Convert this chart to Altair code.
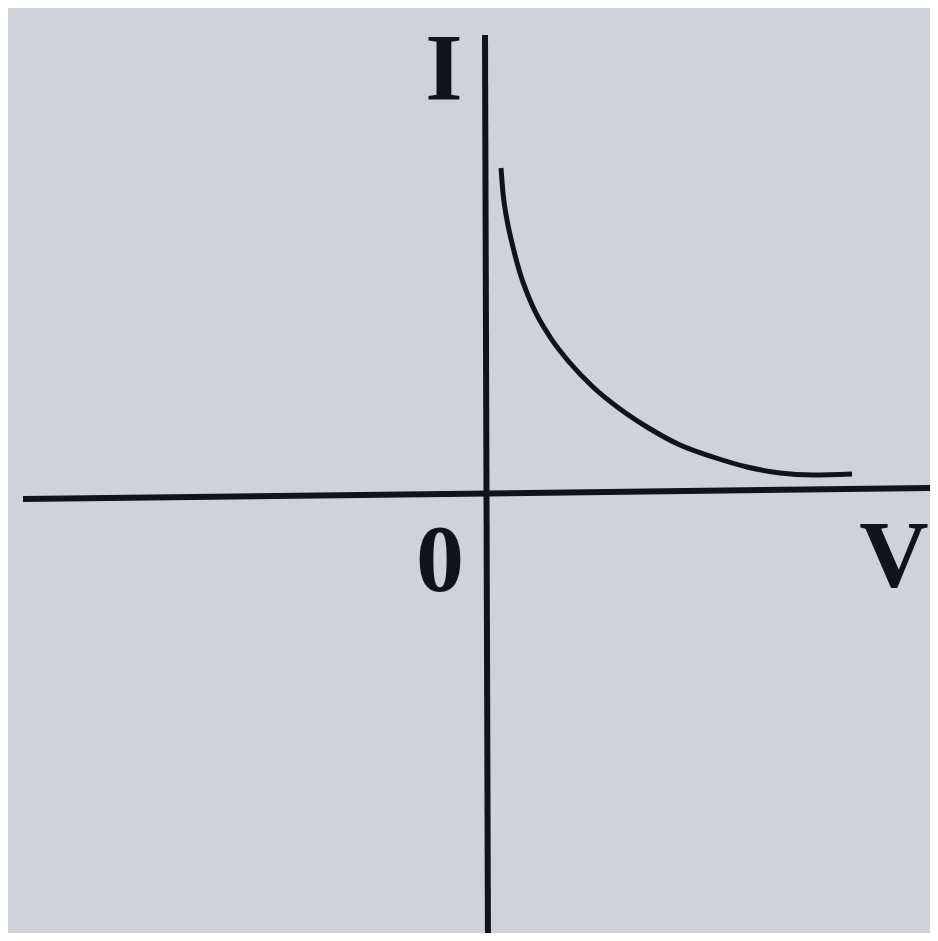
import altair as alt
import pandas as pd

# Curve I(V) (arbitrary units, origin at the axes crossing)
curve_v = [0.14, 0.16, 0.20, 0.25, 0.33, 0.46, 0.63, 0.83, 1.06, 1.33,
           1.60, 1.93, 2.26, 2.60, 2.93, 3.26, 3.65]
curve_i = [3.26, 3.01, 2.74, 2.51, 2.21, 1.87, 1.57, 1.31, 1.07, 0.85,
           0.67, 0.49, 0.37, 0.27, 0.21, 0.19, 0.20]

# Axis line extents (slightly tilted as in the photo)
haxis_v = [-4.64, 4.51]
haxis_i = [-0.05, 0.06]
vaxis_v = [-0.02, 0.01]
vaxis_i = [4.59, -4.60]

# Labels
label_text = ["I", "0", "V"]
label_v = [-0.43, -0.47, 4.07]
label_i = [3.94, -0.97, -0.93]

X_DOMAIN = [-4.79, 4.43]
Y_DOMAIN = [-4.39, 4.86]

xs = alt.Scale(domain=X_DOMAIN, nice=False, zero=False)
ys = alt.Scale(domain=Y_DOMAIN, nice=False, zero=False)
INK = "#101318"

curve_df = pd.DataFrame({"V": curve_v, "I": curve_i})
axes_df = pd.DataFrame({
    "v1": [haxis_v[0], vaxis_v[0]],
    "v2": [haxis_v[1], vaxis_v[1]],
    "i1": [haxis_i[0], vaxis_i[0]],
    "i2": [haxis_i[1], vaxis_i[1]],
})
labels_df = pd.DataFrame({"t": label_text, "V": label_v, "I": label_i})

axes = alt.Chart(axes_df).mark_rule(color=INK, strokeWidth=6, clip=True).encode(
    x=alt.X("v1:Q", scale=xs, axis=None),
    x2="v2:Q",
    y=alt.Y("i1:Q", scale=ys, axis=None),
    y2="i2:Q",
)

curve = alt.Chart(curve_df).mark_line(
    color=INK, strokeWidth=5, interpolate="monotone", strokeCap="butt", clip=True
).encode(
    x=alt.X("V:Q", scale=xs, axis=None),
    y=alt.Y("I:Q", scale=ys, axis=None),
    order=alt.Order("V:Q"),
)

labels = alt.Chart(labels_df).mark_text(
    font="Liberation Serif", fontWeight="bold", fontSize=96, color=INK,
    align="center", baseline="alphabetic"
).encode(
    x=alt.X("V:Q", scale=xs, axis=None),
    y=alt.Y("I:Q", scale=ys, axis=None),
    text="t:N",
)

chart = (axes + curve + labels).properties(
    width=922, height=925, background="#cfd3d8", padding=0,
    autosize=alt.AutoSizeParams(type="none"),
).configure_view(stroke=None)

chart.save("out.html", embed_options={"renderer": "svg", "actions": False})
